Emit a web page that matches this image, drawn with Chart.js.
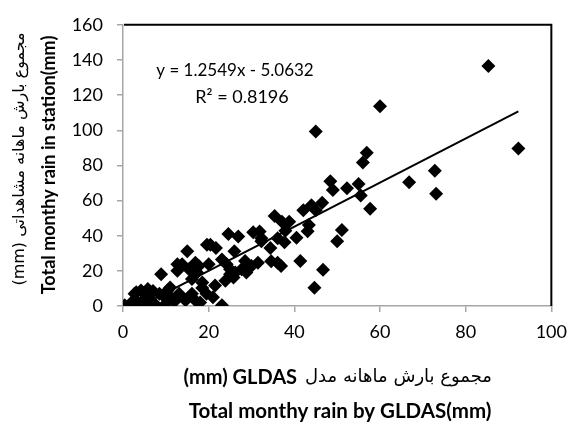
<!doctype html>
<html lang="en">
<head>
  <meta charset="utf-8">
  <title>GLDAS vs station rain</title>
  <script src="https://cdn.jsdelivr.net/npm/chart.js"></script>
  <style>
    html, body { margin: 0; padding: 0; background: #fff; }
    #wrap { width: 576px; height: 426px; position: relative; }
  </style>
</head>
<body>
  <div id="wrap">
    <canvas id="rainChart"></canvas>
  </div>
  <script>
    // monthly rain, GLDAS model (x) vs station observed (y), mm
    var gldas = [85.3, 92.3, 60.0, 45.0, 56.9, 56.0, 72.8, 73.1, 66.8, 57.7,
                 55.0, 55.5, 52.3, 48.4, 49.0, 51.1, 50.0, 46.7, 44.7, 41.4,
                 43.1, 43.4, 40.5, 42.1, 44.0, 45.0, 46.5, 35.4, 37.1, 38.8,
                 37.9, 37.7, 36.1, 34.4, 32.3, 31.9, 36.1, 34.6, 36.9, 31.5,
                 15.0, 8.9, 19.6, 20.4, 21.7, 24.6, 26.9, 30.4, 32.3, 26.0,
                 23.1, 20.0, 24.2, 13.8, 12.7, 15.4, 17.3, 17.7, 18.5, 16.1,
                 25.0, 25.0, 26.2, 27.7, 28.5, 30.0, 28.8, 25.8, 23.9, 21.5,
                 18.5, 16.1, 21.0, 23.1, 3.1, 5.8, 0.4, 3.1, 5.4, 6.9,
                 8.5, 10.4, 11.5, 13.1, 1.5, 4.6, 7.7, 10.0, 14.6, 16.9,
                 4.6, 4.2, 2.7, 16.9, 12.7, 2.0, 6.0, 9.5, 12.0, 18.0,
                 19.5, 11.0, 7.0];
    var station = [136.5, 89.6, 113.7, 99.3, 87.2, 81.6, 76.9, 63.8, 70.4, 55.4,
                   69.4, 62.9, 67.0, 71.0, 66.0, 43.3, 36.8, 20.6, 10.4, 25.6,
                   42.6, 46.1, 38.8, 54.5, 57.3, 54.5, 58.7, 51.2, 48.0, 48.0,
                   42.8, 36.3, 38.6, 33.0, 38.6, 42.4, 24.6, 25.5, 22.8, 24.6,
                   31.2, 18.1, 34.9, 34.9, 33.0, 40.9, 39.6, 41.9, 36.8, 31.2,
                   26.5, 23.7, 23.7, 23.7, 20.0, 20.9, 19.0, 22.8, 13.4, 15.3,
                   20.9, 18.1, 19.0, 20.9, 25.6, 22.8, 19.0, 16.2, 14.4, 11.6,
                   10.2, 6.9, 5.0, 0.4, 7.8, 9.7, 0.4, 3.2, 5.0, 2.2,
                   6.9, 8.8, 4.1, 6.9, 0.4, 0.4, 0.4, 1.3, 3.2, 3.2,
                   2.2, 8.8, 6.9, 24.6, 23.7, 2.0, 5.5, 5.5, 2.5, 2.0,
                   7.0, 10.5, 8.5];

    var slope = 1.2549;
    var intercept = -5.0632;
    var rSquared = 0.8196;
    var trendX = [0, 92.3];

    var xTicks = [0, 20, 40, 60, 80, 100];
    var yTicks = [0, 20, 40, 60, 80, 100, 120, 140, 160];

    // persian part and the bold latin part of the x title are drawn separately
    var xTitleFa = 'مجموع بارش ماهانه مدل';
    var xTitleFaUnit = '(mm) GLDAS';
    var xTitleEn = 'Total monthy rain by GLDAS(mm)';
    var yTitleFa = 'مجموع بارش ماهانه مشاهداتی (mm)';
    var yTitleEn = 'Total monthy rain in station(mm)';

    var points = gldas.map(function (x, i) { return { x: x, y: station[i] }; });
    var trendPoints = trendX.map(function (x) { return { x: x, y: slope * x + intercept }; });

    var axisGray = '#a6a6a6';

    // black frame on top/right + equation + axis titles
    var extras = {
      id: 'extras',
      afterDraw: function (chart) {
        var ctx = chart.ctx;
        var a = chart.chartArea;
        ctx.save();
        ctx.strokeStyle = '#000';
        ctx.lineWidth = 2;
        ctx.beginPath();
        ctx.moveTo(a.left + 1, a.top);
        ctx.lineTo(a.right, a.top);
        ctx.lineTo(a.right, a.bottom);
        ctx.stroke();

        ctx.fillStyle = '#000';
        ctx.textBaseline = 'middle';

        // trendline equation
        ctx.textAlign = 'center';
        ctx.font = '17px Lato';
        ctx.fillText('y = ' + slope.toFixed(4) + 'x - ' + Math.abs(intercept).toFixed(4), 235, 71);
        ctx.font = '18px Lato';
        ctx.fillText('R² = ' + rSquared.toFixed(4), 242, 97);

        // x titles
        ctx.direction = 'rtl';
        ctx.textAlign = 'start';
        ctx.font = '18px "DejaVu Sans"';
        ctx.fillText(xTitleFa, 492, 377);
        var faW = ctx.measureText(xTitleFa).width;
        ctx.direction = 'ltr';
        ctx.textAlign = 'right';
        ctx.font = 'bold 20px Lato';
        ctx.fillText(xTitleFaUnit, 492 - faW - 8, 378);

        ctx.textAlign = 'center';
        ctx.font = 'bold 20.5px Lato';
        ctx.fillText(xTitleEn, 340, 411);

        // y titles (rotated)
        ctx.save();
        ctx.translate(20, 159);
        ctx.rotate(-Math.PI / 2);
        ctx.direction = 'rtl';
        ctx.font = '16px "DejaVu Sans"';
        ctx.fillText(yTitleFa, 0, 0);
        ctx.restore();

        ctx.save();
        ctx.translate(49, 165);
        ctx.rotate(-Math.PI / 2);
        ctx.font = 'bold 18px Lato';
        ctx.fillText(yTitleEn, 0, 0);
        ctx.restore();

        ctx.restore();
      }
    };

    var config = {
      type: 'scatter',
      data: {
        datasets: [
          {
            type: 'line',
            label: 'Linear trend',
            data: trendPoints,
            borderColor: '#000',
            borderWidth: 2,
            pointRadius: 0,
            fill: false
          },
          {
            label: 'Monthly rain',
            data: points,
            pointStyle: 'rectRot',
            pointRadius: 7,
            backgroundColor: '#000',
            borderColor: '#000',
            borderWidth: 0
          }
        ]
      },
      options: {
        responsive: false,
        animation: false,
        layout: { padding: { left: 0, top: 20, right: 19, bottom: 0 } },
        plugins: {
          legend: { display: false },
          tooltip: { enabled: false }
        },
        scales: {
          x: {
            type: 'linear',
            min: 0,
            max: 100,
            afterBuildTicks: function (s) { s.ticks = xTicks.map(function (v) { return { value: v }; }); },
            afterFit: function (s) { s.height = 120; },
            ticks: { color: '#000', font: { family: 'Lato', size: 18 }, padding: 9 },
            grid: { drawOnChartArea: false, drawTicks: true, tickLength: 6, color: axisGray, lineWidth: 1.5 },
            border: { color: axisGray, width: 1.5 }
          },
          y: {
            type: 'linear',
            min: 0,
            max: 160,
            afterBuildTicks: function (s) { s.ticks = yTicks.map(function (v) { return { value: v }; }); },
            afterFit: function (s) { s.width = 123; },
            ticks: { color: '#000', font: { family: 'Lato', size: 18 }, padding: 14 },
            grid: { drawOnChartArea: false, drawTicks: true, tickLength: 6, color: axisGray, lineWidth: 1.5 },
            border: { color: axisGray, width: 1.5 }
          }
        }
      },
      plugins: [extras]
    };

    var canvas = document.getElementById('rainChart');
    canvas.width = 576;
    canvas.height = 426;
    new Chart(canvas, config);
  </script>
</body>
</html>
